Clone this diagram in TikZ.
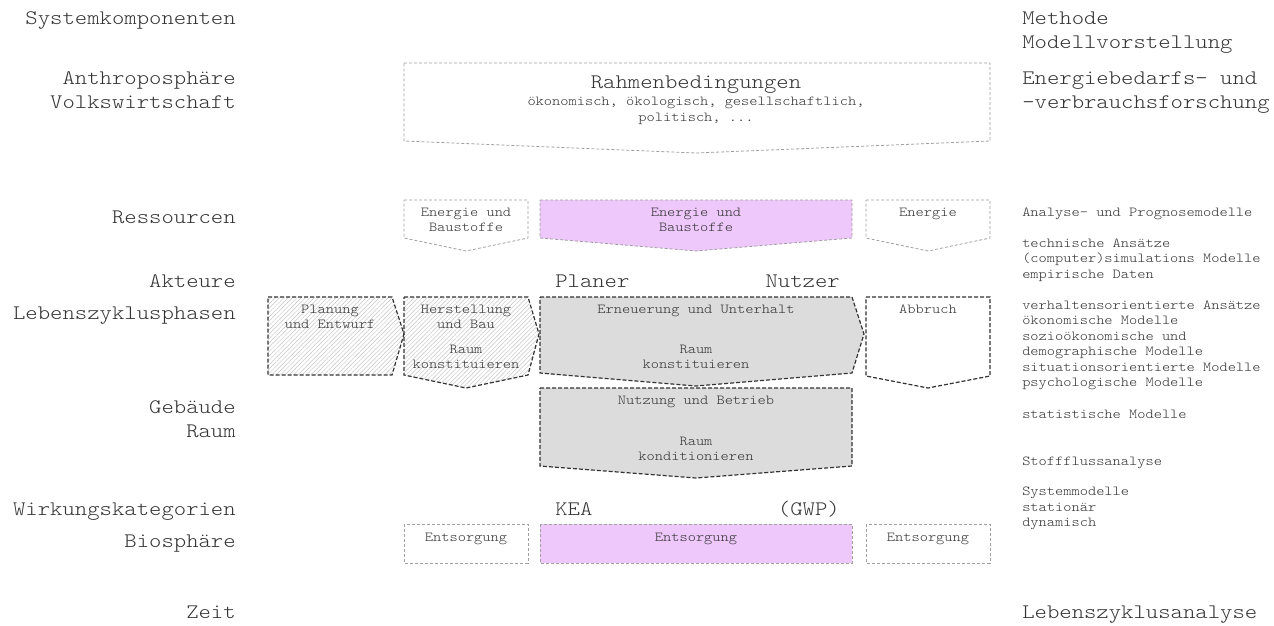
\documentclass[tikz,border=0pt]{standalone}
\usepackage{fontspec}
\setmainfont[FakeStretch=1.14]{Latin Modern Mono Light}
\usetikzlibrary{patterns.meta}
\definecolor{txt}{HTML}{333333}
\definecolor{pinkf}{HTML}{EEC8FB}
\definecolor{grayf}{HTML}{DCDCDC}
\definecolor{lgline}{HTML}{A0A0A0}
\definecolor{dkline}{HTML}{333333}
\definecolor{hatchc}{HTML}{C4C4C4}
\begin{document}
\begin{tikzpicture}[x=0.75pt,y=-0.75pt,
  big/.style={font=\fontsize{15.5}{16}\selectfont, text=txt, inner sep=0pt},
  small/.style={font=\fontsize{10.3}{11}\selectfont, text=txt, inner sep=0pt},
  lightbox/.style={draw=lgline, line width=0.6pt, dash pattern=on 2.25pt off 1.5pt},
  darkbox/.style={draw=dkline, line width=0.9pt, dash pattern=on 3pt off 1.5pt},
  hatched/.style={pattern={Lines[angle=45,distance=2.3pt,line width=0.35pt]}, pattern color=hatchc},
]
\useasboundingbox (0,0) rectangle (1274,625);

% ---------- shapes ----------
% Rahmenbedingungen
\draw[lightbox] (404,63) -- (990,63) -- (990,141) -- (696,153) -- (404,141) -- cycle;
% Ressourcen row
\draw[lightbox] (404,200) -- (528,200) -- (528,238) -- (466,251) -- (404,238) -- cycle;
\draw[lightbox, fill=pinkf] (540,200) -- (852,200) -- (852,238) -- (696,251) -- (540,238) -- cycle;
\draw[lightbox] (866,200) -- (990,200) -- (990,238) -- (928,251) -- (866,238) -- cycle;
% Lebenszyklusphasen
\draw[darkbox, hatched] (268,297) -- (392,297) -- (404,334) -- (392,375) -- (268,375) -- cycle;
\draw[darkbox, hatched] (404,297) -- (528,297) -- (539,334) -- (528,375) -- (466,388) -- (404,375) -- cycle;
\draw[darkbox, fill=grayf] (540,297) -- (852,297) -- (864,334) -- (852,373) -- (696,386) -- (540,373) -- cycle;
\draw[darkbox] (866,297) -- (990,297) -- (990,376) -- (928,388) -- (866,376) -- cycle;
% Nutzung und Betrieb
\draw[darkbox, fill=grayf] (540,388) -- (852,388) -- (852,466) -- (696,478) -- (540,466) -- cycle;
% Entsorgung row
\draw[lightbox] (404,524) rectangle (528,563);
\draw[lightbox, fill=pinkf] (540,524) rectangle (852,563);
\draw[lightbox] (866,524) rectangle (990,563);

% ---------- left column ----------
\node[big, anchor=base east] (sk) at (236,24) {Systemkomponenten};
\node[big, anchor=base east] (an) at (236,84) {Anthroposphäre};
\node[big, anchor=base east] (vw) at (236,108) {Volkswirtschaft};
\node[big, anchor=base east] (re) at (236,223) {Ressourcen};
\node[big, anchor=base east] (ak) at (236,287) {Akteure};
\node[big, anchor=base east] (lz) at (236,319) {Lebenszyklusphasen};
\node[big, anchor=base east] (ge) at (236,413) {Gebäude};
\node[big, anchor=base east] (ra) at (236,437) {Raum};
\node[big, anchor=base east] (wk) at (236,515) {Wirkungskategorien};
\node[big, anchor=base east] (bs) at (236,547) {Biosphäre};
\node[big, anchor=base east] (ze) at (236,618) {Zeit};

% ---------- right column ----------
\node[big, anchor=base west] (me) at (1022,24) {Methode};
\node[big, anchor=base west] (mv) at (1022,48) {Modellvorstellung};
\node[big, anchor=base west] (eb) at (1022,84) {Energiebedarfs- und};
\node[big, anchor=base west] (vf) at (1022,108) {-verbrauchsforschung};
\node[big, anchor=base west] (lza) at (1022,618) {Lebenszyklusanalyse};

\node[small, anchor=base west] (r1) at (1022,216) {Analyse- und Prognosemodelle};
\node[small, anchor=base west] (r2) at (1022,247) {technische Ansätze};
\node[small, anchor=base west] (r3) at (1022,262.5) {(computer)simulations Modelle};
\node[small, anchor=base west] (r4) at (1022,278) {empirische Daten};
\node[small, anchor=base west] (r5) at (1022,309) {verhaltensorientierte Ansätze};
\node[small, anchor=base west] (r6) at (1022,324.5) {ökonomische Modelle};
\node[small, anchor=base west] (r7) at (1022,340) {sozioökonomische und};
\node[small, anchor=base west] (r8) at (1022,355.5) {demographische Modelle};
\node[small, anchor=base west] (r9) at (1022,371) {situationsorientierte Modelle};
\node[small, anchor=base west] (r10) at (1022,386.5) {psychologische Modelle};
\node[small, anchor=base west] (r11) at (1022,418) {statistische Modelle};
\node[small, anchor=base west] (r12) at (1022,465.5) {Stoffflussanalyse};
\node[small, anchor=base west] (r13) at (1022,495.5) {Systemmodelle};
\node[small, anchor=base west] (r14) at (1022,511) {stationär};
\node[small, anchor=base west] (r15) at (1022,526.5) {dynamisch};

% ---------- middle labels ----------
\node[big, anchor=base west] (pl) at (555,287) {Planer};
\node[big, anchor=base east] (nu) at (840,287) {Nutzer};
\node[big, anchor=base west] (kea) at (555,515) {KEA};
\node[big, anchor=base east] (gwp) at (840,515) {(GWP)};

% ---------- box texts ----------
\node[big, anchor=base] (rb) at (696,88) {Rahmenbedingungen};
\node[small, anchor=base] (rb1) at (696,105.5) {ökonomisch, ökologisch, gesellschaftlich,};
\node[small, anchor=base] (rb2) at (696,121.5) {politisch, ...};

\node[small, anchor=base] (eb1) at (466,216) {Energie und};
\node[small, anchor=base] (eb2) at (466,231) {Baustoffe};
\node[small, anchor=base] (ep1) at (696,216) {Energie und};
\node[small, anchor=base] (ep2) at (696,231) {Baustoffe};
\node[small, anchor=base] (en) at (928,216) {Energie};

\node[small, anchor=base] (pe1) at (330,313) {Planung};
\node[small, anchor=base] (pe2) at (330,328) {und Entwurf};
\node[small, anchor=base] (hb1) at (466,313) {Herstellung};
\node[small, anchor=base] (hb2) at (466,328) {und Bau};
\node[small, anchor=base] (hb3) at (466,353) {Raum};
\node[small, anchor=base] (hb4) at (466,368) {konstituieren};
\node[small, anchor=base] (eu1) at (696,313) {Erneuerung und Unterhalt};
\node[small, anchor=base] (eu2) at (696,353) {Raum};
\node[small, anchor=base] (eu3) at (696,368) {konstituieren};
\node[small, anchor=base] (ab) at (928,313) {Abbruch};
\node[small, anchor=base] (nb1) at (696,404) {Nutzung und Betrieb};
\node[small, anchor=base] (nb2) at (696,445) {Raum};
\node[small, anchor=base] (nb3) at (696,460) {konditionieren};

\node[small, anchor=base] (es1) at (466,541) {Entsorgung};
\node[small, anchor=base] (es2) at (696,541) {Entsorgung};
\node[small, anchor=base] (es3) at (928,541) {Entsorgung};
\end{tikzpicture}
\end{document}
